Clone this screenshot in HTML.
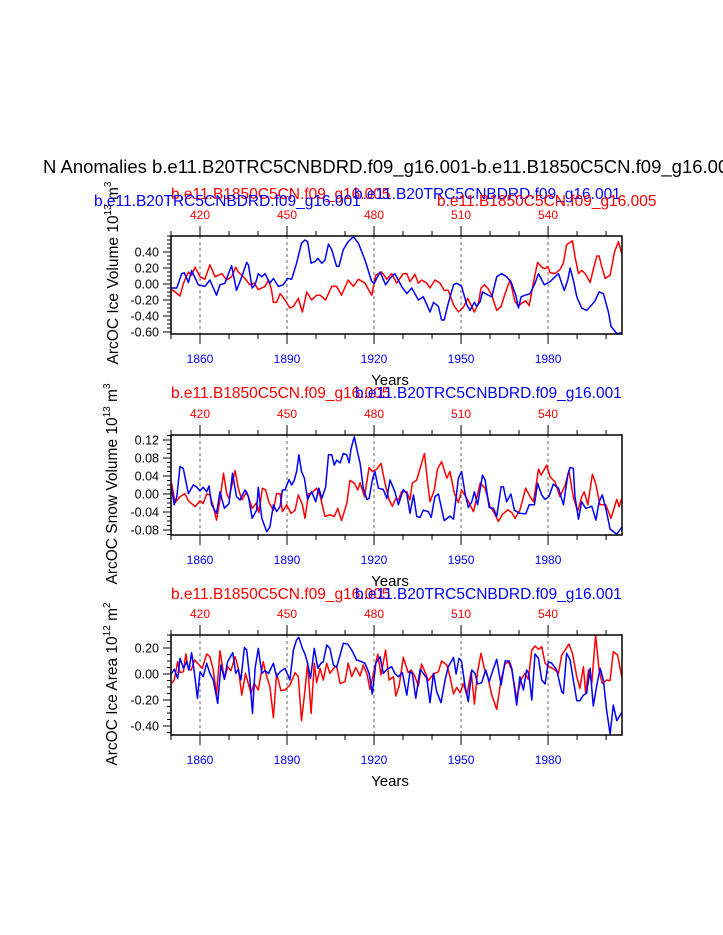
<!DOCTYPE html>
<html><head><meta charset="utf-8"><style>
html,body{margin:0;padding:0;background:#fff;}
svg{display:block;font-family:"Liberation Sans",Arial,sans-serif;}
</style></head><body>
<svg id="chart" width="723" height="935" viewBox="0 0 723 935" xmlns="http://www.w3.org/2000/svg">
<text x="43" y="173" font-size="18.5">N Anomalies b.e11.B20TRC5CNBDRD.f09_g16.001-b.e11.B1850C5CN.f09_g16.005</text>
</svg>
<script>
// ---------- data ----------
const bottomTicks = [1860, 1890, 1920, 1950, 1980];
const topTicks = [420, 450, 480, 510, 540];
const topOffset = 1440;
const p1YTicks = [0.4, 0.2, 0, -0.2, -0.4, -0.6];
const p1YLabels = ["0.40", "0.20", "0.00", "-0.20", "-0.40", "-0.60"];
const p2YTicks = [0.12, 0.08, 0.04, 0, -0.04, -0.08];
const p2YLabels = ["0.12", "0.08", "0.04", "0.00", "-0.04", "-0.08"];
const p3YTicks = [0.2, 0, -0.2, -0.4];
const p3YLabels = ["0.20", "0.00", "-0.20", "-0.40"];

const p1BlueYears = [1850.2,1852,1853.7,1854.6,1856,1857.1,1859.4,1861.7,1863.4,1865.7,1866.9,1868.6,1870.9,1872.6,1874.4,1876.1,1876.7,1878,1879,1880.1,1881.3,1882.4,1884.1,1885.3,1887,1888.7,1890.2,1891.6,1893.3,1895,1896.2,1897.1,1898.3,1899.7,1900.6,1902,1903.1,1904.3,1905.4,1907.1,1907.9,1909.4,1911.1,1912.9,1914.6,1916.9,1919.2,1920.1,1922.1,1924,1925.5,1927.2,1929.5,1931.3,1933,1935.3,1937,1939.3,1940.5,1942.2,1943.3,1944.2,1945.6,1947.4,1948.5,1950.2,1952,1953.1,1954.6,1955.4,1956.6,1957.4,1959.4,1960.6,1962.3,1964,1965.7,1967.2,1968.9,1969.8,1970.7,1972.1,1973.8,1975.5,1976.7,1978.7,1980.7,1982.4,1983.6,1984.7,1985.6,1986.8,1987.6,1988.7,1989.9,1991.6,1993.3,1995.1,1996.2,1997.6,1999.1,2000.8,2001.7,2003.7,2005.4];
const p1BlueVals = [-0.05,-0.05,0.13,0.14,0.02,0.17,-0.01,-0.03,0.05,-0.14,-0.01,0.01,0.23,-0.08,0.09,0.27,0.24,-0.05,-0.01,0.13,0.09,0.13,0.01,0.07,-0.03,-0.01,0.07,0.06,0.26,0.51,0.55,0.53,0.26,0.28,0.32,0.26,0.3,0.5,0.43,0.22,0.22,0.43,0.53,0.59,0.51,0.3,0.03,0.01,0.15,-0.01,0.07,0.13,-0.03,-0.12,-0.05,-0.2,-0.16,-0.35,-0.23,-0.28,-0.45,-0.45,-0.24,-0.01,0.01,-0.03,-0.26,-0.33,-0.23,-0.28,-0.22,-0.1,-0.14,-0.16,0.09,0.13,0.09,0.03,-0.14,-0.3,-0.16,-0.14,-0.12,0.01,0.13,-0.01,0.03,0.09,0.13,0.01,-0.08,0.05,0.2,0.05,-0.16,-0.3,-0.33,-0.26,-0.21,-0.1,-0.12,-0.35,-0.53,-0.62,-0.61];
const p1RedYears = [1850.2,1851.4,1853.1,1854.3,1856,1857.1,1858.3,1860,1861.7,1863.4,1865.2,1867.5,1869.2,1870.9,1872.3,1873.2,1875,1877.2,1878.7,1880.1,1882.4,1883.6,1884.7,1885.3,1886.4,1887.6,1889.3,1891,1892.2,1893.9,1895.3,1896.8,1898.5,1900.2,1901.4,1903.3,1905.4,1907.1,1908.8,1911.1,1912.9,1914.6,1916.9,1919.2,1920.6,1922.6,1924.4,1926.1,1927.8,1930.1,1931.3,1932.4,1934.1,1935.3,1936.4,1938.2,1939.3,1941,1942.8,1944.2,1945.6,1947.4,1949.1,1950.8,1952.3,1953.4,1954.6,1956,1956.9,1958.1,1959.2,1960.6,1962.3,1963.8,1965.2,1966.9,1968.6,1969.8,1970.9,1972.3,1973.5,1974.9,1976.4,1977.8,1979,1979.9,1980.7,1982.4,1984.1,1985.3,1986.4,1988.4,1989.3,1990.5,1991.6,1992.8,1994.5,1995.6,1996.8,1997.6,1998.5,1999.7,2001.4,2002.9,2004.3,2005.4];
const p1RedVals = [-0.07,-0.1,-0.15,0.01,0.15,0.11,0.21,0.09,0.06,0.24,0.09,0.13,0.05,0.09,0.21,0.15,0.09,-0.01,0.01,-0.07,-0.03,0.05,-0.08,-0.23,-0.23,-0.12,-0.2,-0.3,-0.28,-0.18,-0.35,-0.1,-0.2,-0.14,-0.14,-0.2,-0.03,-0.03,-0.14,0.05,-0.03,0.06,0.01,-0.14,0.11,0.15,0.06,0.13,0.01,0.13,0.13,0.03,0.12,0.01,0.05,0.01,-0.05,0.05,0.01,-0.08,-0.08,-0.26,-0.35,-0.29,-0.18,-0.26,-0.35,-0.24,-0.05,-0.01,-0.05,-0.14,-0.33,-0.28,-0.12,0.05,-0.22,-0.28,-0.24,-0.21,-0.27,0.01,0.27,0.21,0.19,0.22,0.14,0.13,0.18,0.26,0.49,0.54,0.34,0.13,0.17,0.13,0.02,0.18,0.35,0.35,0.22,0.07,0.11,0.4,0.53,0.38];

const p2BlueYears = [1850.2,1851.1,1852,1853.1,1854.2,1856,1857.7,1858.8,1860,1861.1,1862.3,1863.1,1864,1865.7,1866.9,1868.4,1870,1871.2,1872.6,1873.8,1875.5,1876.7,1878,1879.5,1880.1,1881.3,1883,1884.1,1885.3,1886.4,1887.6,1888.4,1889.3,1890.7,1891.6,1892.5,1893.3,1894.1,1895,1896,1897.1,1898.5,1899.9,1901,1902,1903.3,1904.3,1905.4,1906.3,1907.1,1908.3,1909.4,1910.6,1911.4,1912.1,1913.2,1914.4,1915.2,1916.3,1917.5,1918.3,1919.4,1920.3,1921.5,1923.2,1924.4,1925.5,1927.2,1928.4,1930.1,1931.3,1932.4,1933.6,1934.7,1935.9,1937,1938.7,1939.7,1941,1942.2,1944.2,1946.2,1947.4,1949.1,1950.2,1951.4,1952.5,1953.7,1954.6,1955.7,1957.4,1958.3,1959.7,1961.2,1962.3,1963.8,1964.6,1965.7,1967.2,1968.4,1970.3,1972.3,1973.5,1975.3,1976.4,1977.8,1979,1980.3,1981.8,1983.6,1985.3,1986.8,1987.6,1988.7,1989.3,1990.5,1991.6,1993,1995.1,1996.5,1997.6,1998.7,1999.9,2001.4,2003.7,2005.4];
const p2BlueVals = [0.013,-0.024,-0.006,0.061,0.057,0.001,0.02,0.016,0.007,0.015,0.005,0.018,-0.024,-0.043,0.005,-0.032,-0.021,0.046,-0.006,-0.013,0.009,-0.006,-0.054,-0.036,0.015,-0.054,-0.084,-0.073,-0.024,-0.039,-0.028,0.009,0.009,0.032,0.02,0.031,0.05,0.087,0.05,0.035,-0.012,0.005,-0.017,0.013,-0.01,0.015,0.087,0.087,0.064,0.075,0.069,0.09,0.087,0.069,0.101,0.127,0.09,0.068,0.013,-0.012,-0.01,0.031,0.05,0.013,0.01,-0.01,0.031,0.005,-0.024,0.01,0.001,-0.043,-0.002,-0.05,-0.052,-0.036,-0.039,-0.052,-0.006,0,-0.059,-0.049,-0.056,0.035,0.05,0.001,-0.03,-0.017,0.005,-0.024,0.042,0.031,-0.03,-0.032,-0.05,0.016,0.016,-0.017,0,-0.036,-0.043,-0.044,-0.024,-0.024,0.024,-0.002,-0.012,-0.006,0.022,0.013,-0.024,0.042,0.059,0.057,-0.006,-0.056,-0.017,-0.032,-0.027,-0.058,-0.017,-0.002,-0.032,-0.078,-0.089,-0.074];
const p2RedYears = [1850.2,1851.4,1853.1,1854.8,1856,1858.3,1860,1861.1,1862.3,1863.4,1864.6,1865.7,1866.9,1868.1,1869.2,1870,1872.1,1873.2,1874.4,1876.1,1878,1879.5,1880.3,1881.5,1882.6,1883.8,1885.3,1886.4,1887.6,1888.4,1889.9,1891.4,1892.8,1893.9,1895.3,1896.2,1897.4,1898.7,1900.2,1901.4,1903.1,1904.8,1906.3,1907.5,1908.8,1910.6,1911.7,1913.2,1914.4,1915.2,1916.7,1918.3,1919.4,1920.9,1922.4,1923.8,1925.2,1926.3,1927.5,1928.4,1929.5,1931.3,1932.4,1933.2,1934.7,1935.9,1937.4,1938.5,1939.3,1940.8,1941.9,1943.3,1945.1,1946.2,1947.7,1949.1,1950.2,1952,1954.3,1956.6,1958.3,1960,1961.2,1962.9,1964.2,1966.1,1967.5,1968.6,1970.3,1972.3,1973.8,1975,1976.7,1977.6,1979.5,1980.7,1982.4,1984.1,1985.9,1987.2,1988.7,1990.2,1991.6,1992.5,1993.7,1995.3,1996.4,1997.9,1999.9,2001.7,2003.7,2004.5,2005.4];
const p2RedVals = [0.024,-0.019,-0.006,0.001,-0.015,-0.028,-0.015,-0.021,0,-0.002,-0.028,-0.058,-0.013,0.046,0.001,-0.01,0.052,0.013,-0.013,0.005,-0.032,-0.019,-0.041,0.013,0.009,-0.019,-0.036,0.001,0.001,-0.039,-0.024,-0.043,-0.036,-0.002,-0.024,-0.054,0.001,0.003,0.013,-0.004,-0.05,-0.046,-0.05,-0.032,-0.059,-0.021,0.03,0.024,0.009,0.025,-0.006,0.059,0.05,0.055,0.068,0.024,-0.013,-0.027,-0.01,-0.013,0.005,0.005,-0.013,0.024,0.031,0.057,0.09,0.024,-0.017,0.009,0.055,0.072,0.035,0.05,0.001,-0.019,0.009,-0.01,-0.039,0.024,0.013,-0.028,-0.039,-0.061,-0.046,-0.035,-0.041,-0.054,-0.036,0.013,-0.006,-0.017,0.055,0.042,0.064,0.038,0.027,-0.006,0.02,0.052,-0.006,-0.039,-0.006,0.005,-0.024,0.044,0.024,-0.024,-0.024,-0.054,-0.012,-0.028,-0.01];

const p3BlueYears = [1850.2,1851.1,1852.3,1853.1,1854.3,1855.4,1856.2,1857.1,1858.1,1859.1,1860,1861.1,1862.3,1863.4,1864.6,1866.1,1867.2,1868.4,1869.5,1871.3,1872.3,1873.2,1874.1,1875.3,1876.1,1877.2,1878.1,1879,1880.1,1881.3,1882.4,1883.6,1885.3,1886.4,1887.6,1889.3,1891,1892.2,1893.3,1894.1,1895.3,1896.2,1897.1,1898.1,1899.4,1900.6,1901.7,1902.5,1903.7,1904.8,1906,1907.1,1908.3,1909.4,1910.9,1912.3,1914,1915.7,1916.9,1918.3,1919.4,1920.6,1922.1,1923.2,1924.4,1926.1,1927.2,1928.4,1929.8,1931.3,1932.4,1933.2,1934.4,1935.9,1937,1938.2,1939.3,1940.5,1941.6,1943.1,1944.5,1945.6,1947.4,1948.3,1949.3,1950.2,1951.4,1952.5,1953.7,1954.8,1955.7,1957.1,1958.5,1959.7,1960.8,1962.3,1963.8,1965.2,1966.6,1967.5,1969.2,1970.3,1971.5,1972.6,1973.4,1974.4,1975.5,1976.7,1977.8,1979,1980.1,1981.3,1983,1984.7,1985.3,1986.4,1987.6,1988.7,1989.9,1991,1992.2,1993.3,1994.5,1995.6,1996.8,1998,1999.1,2000.2,2001.4,2002.5,2003.7,2005.4];
const p3BlueVals = [0.005,0.036,-0.033,0.12,0.044,0.095,0.031,0.164,0.005,-0.187,0.018,-0.021,0.082,0.005,-0.046,-0.226,0.069,-0.041,0.095,0.164,0.005,0.036,-0.046,0.205,0.185,-0.046,-0.303,0.044,0.197,0.005,0.026,0.005,0.082,-0.021,0.018,0.044,-0.046,0.185,0.262,0.282,0.197,0.154,0.082,-0.033,0.197,0.044,0.082,0.095,0.223,0.197,0.069,0.051,0.146,0.236,0.231,0.185,0.108,0.095,0.082,0.005,-0.154,0.082,0.133,0.005,0.036,0.056,0.005,-0.021,0.01,-0.162,0.018,0.005,-0.187,0.036,0.005,-0.033,-0.221,0.005,-0.136,-0.221,-0.046,0.056,0.128,0,0.12,0.095,-0.097,-0.213,0.031,0.005,-0.077,-0.067,0.031,-0.059,0.018,0.113,-0.085,0.1,0.1,0.044,-0.239,-0.021,-0.123,0.031,0,-0.2,0.154,0.12,-0.046,-0.077,0.095,0.082,0.031,-0.136,-0.149,0.159,0.108,-0.046,-0.205,-0.205,-0.162,-0.149,0.044,-0.246,-0.085,0.044,-0.046,-0.277,-0.462,-0.239,-0.359,-0.297];
const p3RedYears = [1850.2,1851.1,1852.3,1853.1,1854.3,1855.1,1856,1857,1858.1,1860,1860.8,1862.3,1863.4,1864.6,1865.7,1866.9,1868.4,1869.5,1870.7,1872.1,1873.2,1874.4,1875.7,1877.6,1878.7,1880.1,1881.8,1883,1884.1,1885.3,1886.4,1887.9,1889.3,1891,1892.8,1893.9,1895,1896.2,1897.1,1898.3,1899.4,1900.2,1901.4,1902.5,1903.7,1904.8,1906.3,1907.1,1908.3,1910,1911.1,1912.3,1913.7,1915.2,1916.3,1917.5,1918.6,1919.8,1921.3,1922.4,1924,1925.2,1926.7,1927.5,1928.6,1930.1,1931.8,1932.8,1933.9,1935.3,1936.4,1937.8,1938.7,1940.5,1942.2,1943.3,1945.1,1946.2,1947.4,1948.5,1949.7,1950.8,1952,1953.5,1954.6,1955.7,1956.9,1958.1,1959.2,1960.6,1962.3,1963.8,1965.2,1966.3,1967.5,1969.2,1970.7,1972.1,1973.2,1974.4,1975.5,1976.7,1977.8,1979,1980.3,1982.2,1983.6,1984.7,1985.9,1987.2,1988.4,1989.9,1991,1992.2,1993,1993.9,1995.1,1996.4,1997.6,1998.7,2000.2,2001.4,2002.5,2004,2005.4];
const p3RedVals = [-0.072,-0.046,0.095,0.01,0.018,0.154,0.036,0.031,0.108,0.062,0.044,0.154,0.133,0.031,-0.162,0.179,-0.041,0.056,0.026,0.133,0.044,-0.162,0.005,-0.149,-0.072,-0.123,0.095,-0.021,-0.097,-0.336,0.005,-0.128,-0.123,-0.085,0.01,-0.021,-0.359,-0.123,0.082,-0.303,0.082,-0.067,0.044,-0.046,0.082,0.005,0.051,0.062,-0.072,-0.059,0.082,-0.021,0.051,-0.015,0.069,0.005,-0.118,0.005,0.154,-0.008,0.185,-0.046,-0.021,-0.169,-0.097,0.128,0.01,0.031,-0.008,-0.092,0.077,0.005,-0.051,0,0.018,0.1,0.069,-0.021,-0.154,-0.103,-0.144,-0.072,-0.162,0.018,-0.231,0.018,0.159,0.036,-0.021,-0.162,-0.272,-0.041,0.077,0.095,0.031,-0.187,-0.041,0.005,-0.041,0.185,0.215,0.19,0.21,0.082,0.056,0.036,0.005,0.146,0.185,0.231,0.159,-0.021,-0.11,0.056,-0.149,0.031,-0.072,0.3,0.031,-0.072,-0.046,-0.051,0.172,0.146,-0.021];

// ---------- drawing ----------
const NS = "http://www.w3.org/2000/svg";
const svg = document.getElementById("chart");
const X0 = 171, X1 = 622, YEAR0 = 1850, YEAR1 = 2005.5;
function xScale(yr){ return X0 + (yr - YEAR0) / (YEAR1 - YEAR0) * (X1 - X0); }
function mk(tag, attrs, parent){
  const e = document.createElementNS(NS, tag);
  for (const k in attrs) e.setAttribute(k, attrs[k]);
  (parent || svg).appendChild(e);
  return e;
}
function txt(str, attrs, parent){ const t = mk("text", attrs, parent); t.textContent = str; return t; }

const panels = [
  {id:"ice-volume", top:236, bot:334, ymin:-0.625, ymax:0.6, ticks:p1YTicks, labels:p1YLabels, minor:0.05,
   series:[[p1RedYears,p1RedVals,"#ff0000","red"],[p1BlueYears,p1BlueVals,"#0000ff","blue"]],
   ytitle:"ArcOC Ice Volume 10", exp1:"13", unit:" m", exp2:"3", ycenter:273, ytx:118},
  {id:"snow-volume", top:435, bot:535, ymin:-0.0911, ymax:0.1311, ticks:p2YTicks, labels:p2YLabels, minor:0.01,
   series:[[p2RedYears,p2RedVals,"#ff0000","red"],[p2BlueYears,p2BlueVals,"#0000ff","blue"]],
   ytitle:"ArcOC Snow Volume 10", exp1:"13", unit:" m", exp2:"3", ycenter:484, ytx:117},
  {id:"ice-area", top:635, bot:735, ymin:-0.4692, ymax:0.3, ticks:p3YTicks, labels:p3YLabels, minor:0.05,
   series:[[p3RedYears,p3RedVals,"#ff0000","red"],[p3BlueYears,p3BlueVals,"#0000ff","blue"]],
   ytitle:"ArcOC Ice Area 10", exp1:"12", unit:" m", exp2:"2", ycenter:684, ytx:117}
];

panels.forEach((p, pi) => {
  const g = mk("g", {});
  
  
  const yS = v => p.bot - (v - p.ymin) / (p.ymax - p.ymin) * (p.bot - p.top);
  const cid = "clip" + pi;
  const cp = mk("clipPath", {id: cid}, g);
  mk("rect", {x: X0, y: p.top, width: X1 - X0, height: p.bot - p.top}, cp);

  bottomTicks.forEach(t => {
    const l = mk("line", {x1: xScale(t), x2: xScale(t), y1: p.top, y2: p.bot, stroke: "#666", "stroke-width": 1, "stroke-dasharray": "3,3"}, g);
    
    
  });

  p.series.forEach(s => {
    const pts = s[0].map((yr, i) => xScale(yr).toFixed(1) + "," + yS(s[1][i]).toFixed(1)).join(" ");
    const pl = mk("polyline", {points: pts, fill: "none", stroke: s[2], "stroke-width": 1.5, "stroke-linejoin": "round", "clip-path": "url(#" + cid + ")"}, g);
    
    
  });

  const fr = mk("rect", {x: X0, y: p.top, width: X1 - X0, height: p.bot - p.top, fill: "none", stroke: "#000", "stroke-width": 1.5}, g);
  
  

  for (let yr = 1850; yr <= 2005; yr += 10) {
    const major = bottomTicks.includes(yr);
    const len = major ? 10 : 5;
    mk("line", {x1: xScale(yr), x2: xScale(yr), y1: p.bot, y2: p.bot + len, stroke: "#000", "stroke-width": 1}, g);
    mk("line", {x1: xScale(yr), x2: xScale(yr), y1: p.top, y2: p.top - len, stroke: "#000", "stroke-width": 1}, g);
  }
  bottomTicks.forEach(t => {
    const tl = txt(String(t), {x: xScale(t), y: p.bot + 29, "font-size": 12, fill: "#0000ff", "text-anchor": "middle"}, g);
    
    
  });
  topTicks.forEach(t => {
    const tl = txt(String(t), {x: xScale(t + topOffset), y: p.top - 17, "font-size": 12, fill: "#ff0000", "text-anchor": "middle"}, g);
    
    
  });

  const nMin = Math.ceil(p.ymin / p.minor - 1e-6), nMax = Math.floor(p.ymax / p.minor + 1e-6);
  for (let k = nMin; k <= nMax; k++) {
    const v = k * p.minor;
    mk("line", {x1: X0 - 4, x2: X0, y1: yS(v), y2: yS(v), stroke: "#000", "stroke-width": 1}, g);
  }
  p.ticks.forEach((v, i) => {
    mk("line", {x1: X0 - 8, x2: X0, y1: yS(v), y2: yS(v), stroke: "#000", "stroke-width": 1}, g);
    const tl = txt(p.labels[i], {x: X0 - 12, y: yS(v) + 4.5, "font-size": 12.5, "text-anchor": "end"}, g);
    
    
  });

  const xt = txt("Years", {x: 390, y: p.bot + 51, "font-size": 15, "text-anchor": "middle"}, g);
  
  

  const yt = mk("text", {transform: "translate(" + p.ytx + "," + p.ycenter + ") rotate(-90)", "font-size": 15.5, "text-anchor": "middle"}, g);
  
  
  const a = mk("tspan", {}, yt); a.textContent = p.ytitle;
  const b = mk("tspan", {dy: -7, "font-size": 10}, yt); b.textContent = p.exp1;
  const c = mk("tspan", {dy: 7}, yt); c.textContent = p.unit;
  const d = mk("tspan", {dy: -7, "font-size": 10}, yt); d.textContent = p.exp2;
});

function sub(str, x, y, col, name){
  const t = txt(str, {x: x, y: y, "font-size": 15.5, fill: col});
  
  
}
sub("b.e11.B1850C5CN.f09_g16.005", 171, 199, "#ff0000", "panel1-left-red-title");
sub("b.e11.B20TRC5CNBDRD.f09_g16.001", 354, 199, "#0000ff", "panel1-right-blue-title");
sub("b.e11.B20TRC5CNBDRD.f09_g16.001", 94, 206, "#0000ff", "panel1-left-blue-title");
sub("b.e11.B1850C5CN.f09_g16.005", 437, 206, "#ff0000", "panel1-right-red-title");
sub("b.e11.B1850C5CN.f09_g16.005", 171, 398, "#ff0000", "panel2-red-title");
sub("b.e11.B20TRC5CNBDRD.f09_g16.001", 355, 398, "#0000ff", "panel2-blue-title");
sub("b.e11.B1850C5CN.f09_g16.005", 171, 599, "#ff0000", "panel3-red-title");
sub("b.e11.B20TRC5CNBDRD.f09_g16.001", 355, 599, "#0000ff", "panel3-blue-title");
</script>
</body></html>
